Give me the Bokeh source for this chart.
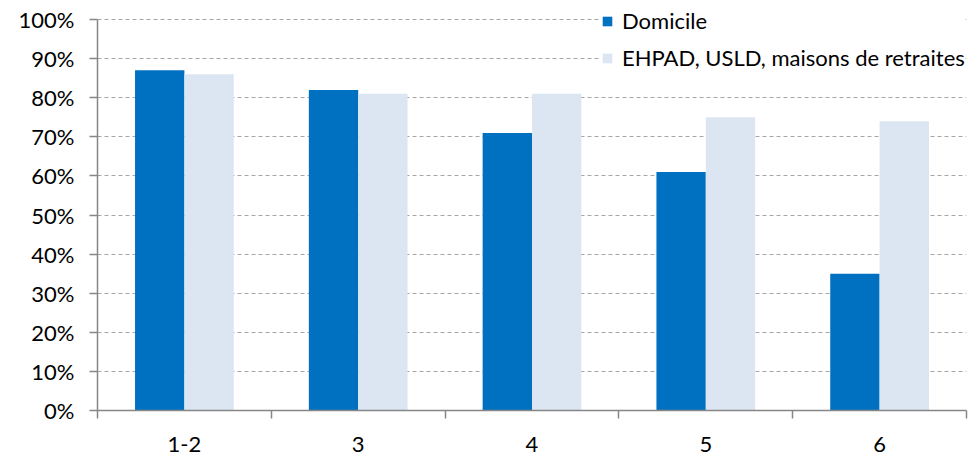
from bokeh.plotting import figure
from bokeh.models import Range1d, FixedTicker, ColumnDataSource, Legend, LegendItem
from bokeh.embed import file_html
from bokeh.resources import INLINE

categories = ["1-2", "3", "4", "5", "6"]
domicile = [87, 82, 71, 61, 35]
ehpad = [86, 81, 81, 75, 74]
y_ticks = [0, 10, 20, 30, 40, 50, 60, 70, 80, 90, 100]
series_names = ["Domicile", "EHPAD, USLD, maisons de retraites"]

DARK = "#0070C0"
LIGHT = "#DCE6F2"
AXIS = "#868686"
GRID = "#A6A6A6"
FONT = "Lato"
FS = "22px"

n = len(categories)
centers = [i + 0.5 for i in range(n)]
bounds = [float(i) for i in range(n + 1)]
bw = 0.284
src = ColumnDataSource(dict(
    xd=[c - bw / 2 for c in centers],
    xe=[c + bw / 2 for c in centers],
    dom=domicile, eh=ehpad,
))

# frame spans full top so legend is not clipped; 100% sits 19px below top
frame_h = 410
y_top = 100 * frame_h / (frame_h - 19)

p = figure(width=974, height=456, x_range=Range1d(0, n), y_range=Range1d(0, y_top),
           output_backend="svg", toolbar_location=None,
           min_border_left=97, min_border_right=8, min_border_top=0, min_border_bottom=46)
p.outline_line_color = None
p.background_fill_color = "white"

r1 = p.vbar(x="xd", top="dom", width=bw, source=src, fill_color=DARK, line_color=None)
r2 = p.vbar(x="xe", top="eh", width=bw, source=src, fill_color=LIGHT, line_color=None)

# y axis
p.yaxis.ticker = FixedTicker(ticks=y_ticks)
p.yaxis.bounds = (0, 100)
p.yaxis.major_label_overrides = {t: f"{t}%" for t in y_ticks}
p.yaxis.axis_line_color = AXIS
p.yaxis.axis_line_width = 1.5
p.yaxis.major_tick_line_color = AXIS
p.yaxis.major_tick_line_width = 1.5
p.yaxis.major_tick_out = 8
p.yaxis.major_tick_in = 0
p.yaxis.minor_tick_line_color = None
p.yaxis.major_label_standoff = 15
p.yaxis.major_label_text_font = FONT
p.yaxis.major_label_text_font_size = FS
p.yaxis.major_label_text_color = "black"

# x axis
p.xaxis.ticker = FixedTicker(ticks=centers, minor_ticks=bounds)
p.xaxis.major_label_overrides = {c: lab for c, lab in zip(centers, categories)}
p.xaxis.axis_line_color = AXIS
p.xaxis.axis_line_width = 1.5
p.xaxis.major_tick_line_color = None
p.xaxis.major_tick_out = 8
p.xaxis.major_tick_in = 0
p.xaxis.minor_tick_line_color = AXIS
p.xaxis.minor_tick_line_width = 1.5
p.xaxis.minor_tick_out = 8
p.xaxis.minor_tick_in = 0
p.xaxis.major_label_standoff = 18
p.xaxis.major_label_text_font = FONT
p.xaxis.major_label_text_font_size = FS
p.xaxis.major_label_text_color = "black"

p.xgrid.visible = False
p.ygrid.ticker = FixedTicker(ticks=y_ticks)
p.ygrid.grid_line_color = GRID
p.ygrid.grid_line_dash = "4 3"
p.ygrid.grid_line_width = 1

legend = Legend(items=[LegendItem(label=series_names[0], renderers=[r1]),
                       LegendItem(label=series_names[1], renderers=[r2])],
                location=(504, 339), orientation="vertical",
                padding=2, spacing=10, margin=0,
                glyph_width=12, glyph_height=12, label_height=22,
                label_standoff=9, border_line_color=None,
                background_fill_color="white", background_fill_alpha=1.0,
                label_text_font=FONT, label_text_font_size=FS,
                label_text_color="black")
p.add_layout(legend, "center")

open("out.html", "w").write(file_html(p, INLINE))
